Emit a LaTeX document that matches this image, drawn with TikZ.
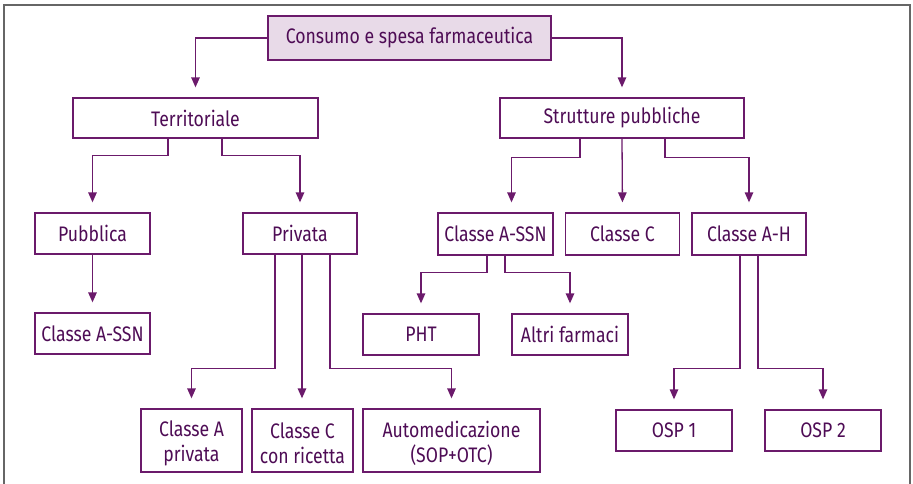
\documentclass[tikz,border=0pt]{standalone}
\usepackage{fontspec}
\setmainfont{Fira Sans}[FakeStretch=0.84]
\usetikzlibrary{arrows.meta}
\definecolor{lineC}{HTML}{6B1A6B}
\definecolor{textC}{HTML}{4E0C55}
\definecolor{fillC}{HTML}{E8DAE8}
\definecolor{frameC}{HTML}{666666}
\tikzset{
  box/.style={draw=lineC, line width=1.3pt, text=textC, align=center, inner sep=0pt,
    font=\fontsize{21}{25}\selectfont},
  label text/.style={text=textC, align=center, inner sep=0pt, font=\fontsize{21}{25}\selectfont},
  conn/.style={draw=lineC, line width=1.3pt, -{Triangle[length=10pt,width=8.5pt]}, shorten >=10pt}
}
\begin{document}
\begin{tikzpicture}[x=1pt,y=-1pt]
\useasboundingbox (0,0) rectangle (913,483);
\draw[frameC, line width=1.6pt] (4,490) -- (4,5) -- (910,5) -- (910,490);
% nodes
\node[box, fill=fillC, minimum width=283, minimum height=44] (cons) at (409.5,38) {Consumo e spesa farmaceutica};
\node[box, minimum width=245, minimum height=40] (terr) at (195.5,118) {Territoriale};
\node[box, minimum width=244, minimum height=40] (strut) at (622,118) {Strutture pubbliche};
\node[box, minimum width=115, minimum height=41] (pubb) at (92.5,233.5) {Pubblica};
\node[box, minimum width=114, minimum height=41] (priv) at (300,233.5) {Privata};
\node[box, minimum width=115, minimum height=41] (cassnA) at (92.5,333.5) {Classe A-SSN};
\node[box, minimum width=115, minimum height=42] (cassnB) at (495.5,234) {Classe A-SSN};
\node[box, minimum width=114, minimum height=42] (clC) at (622.5,234) {Classe C};
\node[box, minimum width=114, minimum height=42] (clAH) at (749,234) {Classe A-H};
\node[box, minimum width=116, minimum height=41] (pht) at (421,334.5) {PHT};
\node[box, minimum width=116, minimum height=41] (altri) at (570,334.5) {Altri farmaci};
\node[box, minimum width=101, minimum height=63] (clApr) at (191.5,440.5) {};
\node[box, minimum width=101, minimum height=63] (clCr) at (302.5,440.5) {};
\node[box, minimum width=177, minimum height=63] (auto) at (451.5,440.5) {};
\node[label text] (clAprT) at ([yshift=-3pt]clApr.center) {Classe A\\privata};
\node[label text] (clCrT) at ([yshift=-3pt]clCr.center) {Classe C\\con ricetta};
\node[label text] (autoT) at ([yshift=-3pt]auto.center) {Automedicazione\\(SOP+OTC)};
\node[box, minimum width=116, minimum height=41] (osp1) at (674,430.5) {OSP 1};
\node[box, minimum width=116, minimum height=41] (osp2) at (823,430.5) {OSP 2};
% connectors
\draw[conn] (cons.west) -| (terr.north);
\draw[conn] (cons.east) -| (strut.north);
\draw[conn] ([xshift=-27.5pt]terr.south) |- ++(0,17) -| (pubb.north);
\draw[conn] ([xshift=26.5pt]terr.south) |- ++(0,17) -| (priv.north);
\draw[conn] (pubb.south) -- (cassnA.north);
\draw[conn] ([xshift=-25pt]priv.south) -- ++(0,114) -| (clApr.north);
\draw[conn] ([xshift=2pt]priv.south) -- ([xshift=-0.5pt]clCr.north);
\draw[conn] ([xshift=30pt]priv.south) -- ++(0,114) -| (auto.north);
\draw[conn] ([xshift=-42pt]strut.south) -- ++(0,19) -| ([xshift=16pt]cassnB.north);
\draw[conn] (strut.south) -- (clC.north);
\draw[conn] ([xshift=43pt]strut.south) -- ++(0,19) -| (clAH.north);
\draw[conn] ([xshift=-8.5pt]cassnB.south) -- ++(0,17) -| (pht.north);
\draw[conn] ([xshift=9.5pt]cassnB.south) -- ++(0,17) -| (altri.north);
\draw[conn] ([xshift=-9pt]clAH.south) -- ++(0,113) -| (osp1.north);
\draw[conn] ([xshift=9pt]clAH.south) -- ++(0,113) -| (osp2.north);
\end{tikzpicture}
\end{document}
